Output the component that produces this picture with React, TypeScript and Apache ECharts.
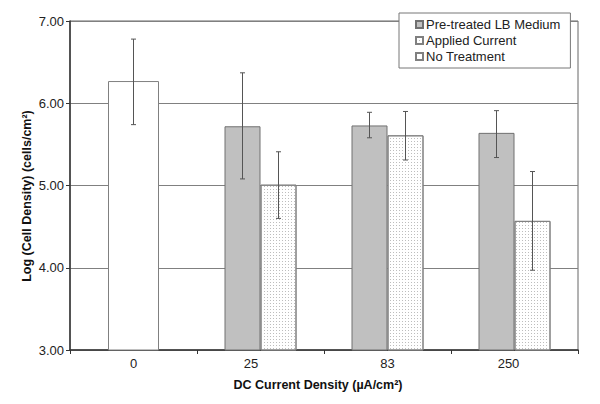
import React, { useEffect, useRef } from "react";
import * as echarts from "echarts";

const categories = ["0", "25", "83", "250"];
const yTicks = [3, 4, 5, 6, 7];

const pretreated = [null, 5.72, 5.73, 5.64];
const pretreatedLow = [null, 5.08, 5.58, 5.34];
const pretreatedHigh = [null, 6.37, 5.89, 5.91];

const applied = [null, 5.01, 5.61, 4.57];
const appliedLow = [null, 4.6, 5.31, 3.97];
const appliedHigh = [null, 5.41, 5.9, 5.17];

const noTreatment = [6.27, null, null, null];
const noTreatmentLow = [5.74, null, null, null];
const noTreatmentHigh = [6.78, null, null, null];

const FONT = "'Liberation Sans', Arial, sans-serif";

function errData(low: (number | null)[], high: (number | null)[]) {
  const out: number[][] = [];
  low.forEach((l, i) => {
    const h = high[i];
    if (l != null && h != null) out.push([i, l, h]);
  });
  return out;
}

function errSeries(name: string, low: (number | null)[], high: (number | null)[], offset: number, axis: number) {
  return {
    type: "custom",
    name: name + " err",
    xAxisIndex: axis,
    z: 10,
    silent: true,
    data: errData(low, high),
    encode: { x: 0, y: [1, 2] },
    renderItem: (params: any, api: any) => {
      const idx = api.value(0);
      const lo = api.coord([idx, api.value(1)]);
      const hi = api.coord([idx, api.value(2)]);
      const x = lo[0] + offset;
      const cap = 2.5;
      const style = { stroke: "#555", lineWidth: 1 };
      return {
        type: "group",
        children: [
          { type: "line", shape: { x1: x, y1: lo[1], x2: x, y2: hi[1] }, style },
          { type: "line", shape: { x1: x - cap, y1: lo[1], x2: x + cap, y2: lo[1] }, style },
          { type: "line", shape: { x1: x - cap, y1: hi[1], x2: x + cap, y2: hi[1] }, style },
        ],
      };
    },
  };
}

const labelShift: Record<string, string> = { "25": "s1", "250": "s2" };

export default function App() {
  const ref = useRef<HTMLDivElement>(null);
  useEffect(() => {
    if (!ref.current) return;
    const chart = echarts.init(ref.current, undefined, { renderer: "svg" });
    const option: any = {
      animation: false,
      backgroundColor: "#fff",
      textStyle: { fontFamily: FONT },
      grid: {
        left: 70,
        right: 22,
        top: 21,
        bottom: 54,
        show: true,
        borderColor: "#666",
        borderWidth: 1,
      },
      legend: {
        orient: "vertical",
        left: 399,
        top: 13,
        padding: [5, 10, 5, 16],
        itemGap: 3,
        itemWidth: 7,
        itemHeight: 7,
        backgroundColor: "#fff",
        borderColor: "#777",
        borderWidth: 1,
        borderRadius: 0,
        textStyle: { fontFamily: FONT, fontSize: 13, color: "#222", padding: [0, 0, 0, -2] },
        data: [
          { name: "Pre-treated LB Medium", icon: "rect" },
          { name: "Applied Current", icon: "rect" },
          { name: "No Treatment", icon: "rect" },
        ],
      },
      xAxis: [
        {
          type: "category",
          data: categories,
          axisLine: { lineStyle: { color: "#333", width: 1.5 } },
          axisTick: { show: true, inside: false, length: 4, lineStyle: { color: "#333" } },
          axisLabel: {
            fontFamily: FONT,
            fontSize: 13,
            color: "#222",
            margin: 7,
            formatter: (v: string) => (labelShift[v] ? `{${labelShift[v]}|${v}}` : v),
            rich: {
              s1: { fontFamily: FONT, fontSize: 13, color: "#222", padding: [0, 19, 0, 0] },
              s2: { fontFamily: FONT, fontSize: 13, color: "#222", padding: [0, 12, 0, 0] },
            },
          },
        },
        {
          type: "category",
          data: categories,
          show: false,
        },
      ],
      yAxis: {
        type: "value",
        min: yTicks[0],
        max: yTicks[yTicks.length - 1],
        interval: 1,
        axisLine: { show: true, lineStyle: { color: "#333", width: 1.5 } },
        axisTick: { show: true, inside: false, length: 4, lineStyle: { color: "#333" } },
        axisLabel: {
          fontFamily: FONT,
          fontSize: 13,
          color: "#222",
          margin: 6,
          formatter: (v: number) => v.toFixed(2),
        },
        splitLine: { show: true, lineStyle: { color: "#808080", width: 1 } },
      },
      graphic: [
        {
          type: "text",
          x: 27,
          y: 196,
          rotation: Math.PI / 2,
          style: {
            text: "Log (Cell Density) (cells/cm²)",
            fontFamily: FONT,
            fontSize: 12.5,
            fontWeight: "bold",
            fill: "#111",
            align: "center",
            verticalAlign: "middle",
          },
        },
        {
          type: "text",
          x: 318,
          y: 385,
          style: {
            text: "DC Current Density (µA/cm²)",
            fontFamily: FONT,
            fontSize: 12.5,
            fontWeight: "bold",
            fill: "#111",
            align: "center",
            verticalAlign: "middle",
          },
        },
      ],
      series: [
        {
          type: "bar",
          name: "Pre-treated LB Medium",
          xAxisIndex: 0,
          data: pretreated,
          barWidth: 36,
          barGap: "0%",
          itemStyle: { color: "#c0c0c0", borderColor: "#707070", borderWidth: 1 },
        },
        {
          type: "bar",
          name: "Applied Current",
          xAxisIndex: 0,
          data: applied,
          barWidth: 36,
          barGap: "0%",
          itemStyle: {
            color: "#ffffff",
            borderColor: "#808080",
            borderWidth: 1,
            decal: {
              symbol: "rect",
              symbolSize: 1,
              dashArrayX: [1, 2],
              dashArrayY: [1, 2],
              color: "#bdbdbd",
            },
          },
        },
        {
          type: "bar",
          name: "No Treatment",
          xAxisIndex: 1,
          data: noTreatment,
          barWidth: 51,
          itemStyle: { color: "#ffffff", borderColor: "#808080", borderWidth: 1 },
        },
        errSeries("Pre-treated LB Medium", pretreatedLow, pretreatedHigh, -18, 0),
        errSeries("Applied Current", appliedLow, appliedHigh, 18, 0),
        errSeries("No Treatment", noTreatmentLow, noTreatmentHigh, 0, 0),
      ],
    };
    chart.setOption(option);
    return () => chart.dispose();
  }, []);
  return (
    <div
      ref={ref}
      style={{ position: "absolute", left: 0, top: 0, width: 600, height: 404 }}
    />
  );
}
